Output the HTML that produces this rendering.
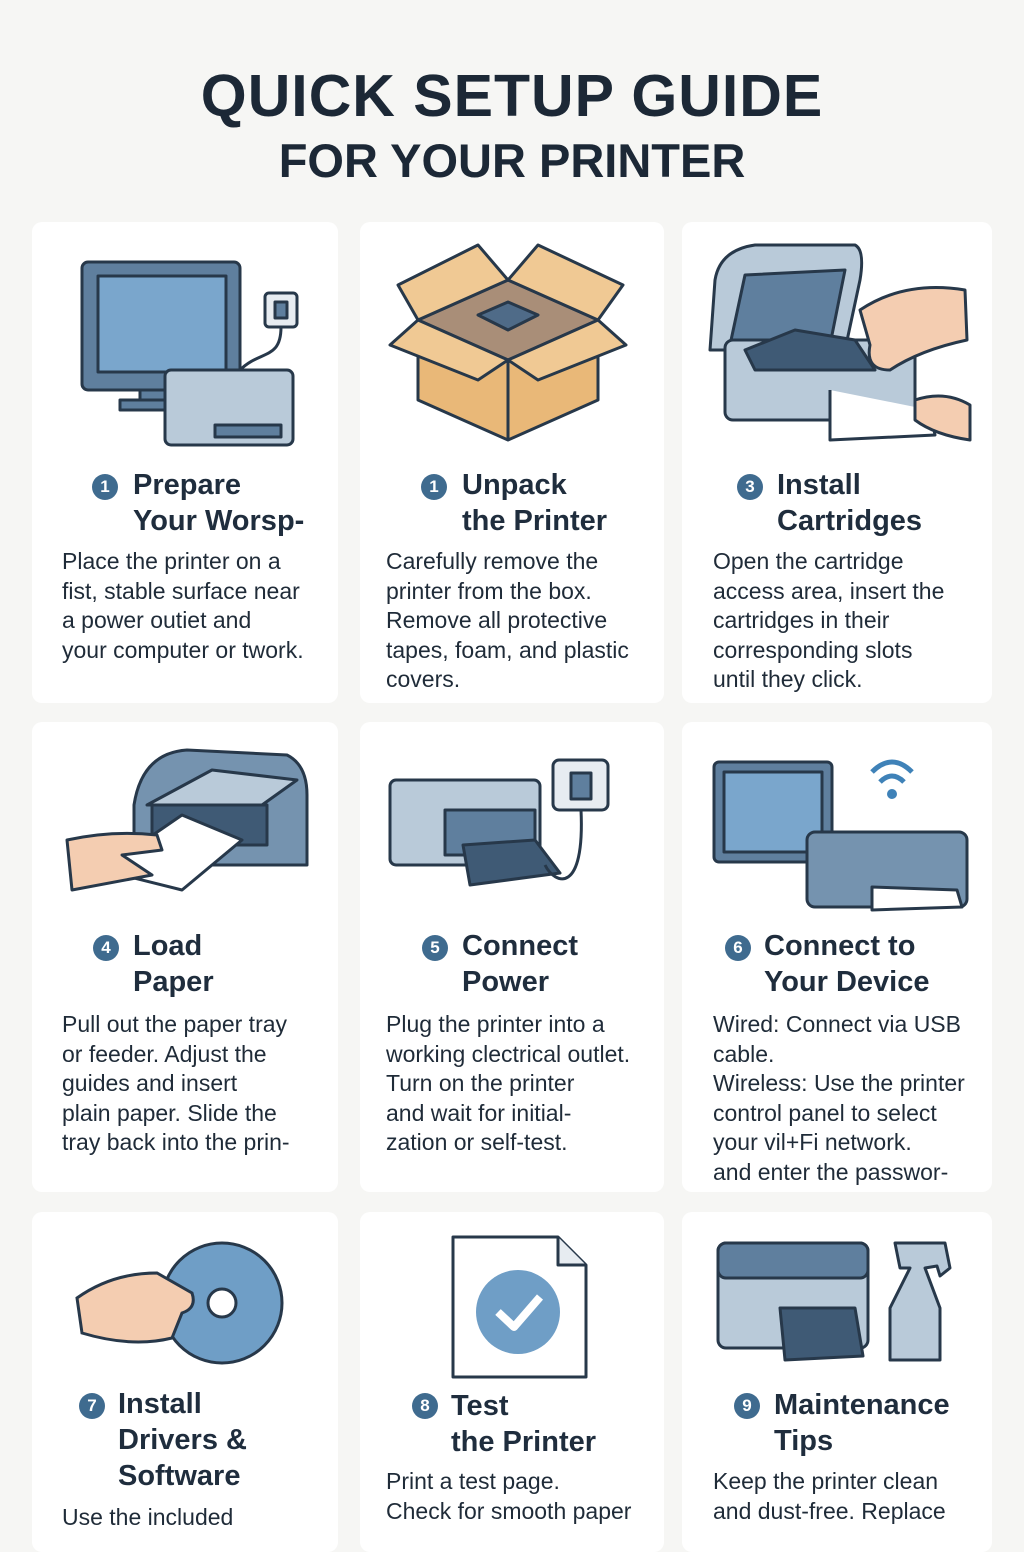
<!DOCTYPE html>
<html><head><meta charset="utf-8"><style>
body{margin:0;width:1024px;height:1536px;background:#f6f6f4;position:relative;overflow:hidden;font-family:"Liberation Sans",sans-serif;color:#1f2b38}
.t1{position:absolute;left:0;width:1024px;top:62px;text-align:center;font-size:59px;font-weight:bold;letter-spacing:1px;color:#1c2836}
.t2{position:absolute;left:0;width:1024px;top:133px;text-align:center;font-size:47px;font-weight:bold;color:#1c2836}
.card{position:absolute;background:#fff;border-radius:10px}
.h{position:absolute;font-size:29px;font-weight:bold;line-height:36px;color:#1f2d3d}
.n{position:absolute;width:26px;height:26px;border-radius:50%;background:#3f6b8f;color:#fff;font-size:17px;font-weight:bold;text-align:center;line-height:26px}
.b{position:absolute;font-size:23px;line-height:29.5px;color:#1f2b38}
svg{position:absolute}
</style></head><body>
<div class="t1">QUICK SETUP GUIDE</div>
<div class="t2">FOR YOUR PRINTER</div>

<div class="card" style="left:32px;top:222px;width:306px;height:481px"></div>
<div class="card" style="left:360px;top:222px;width:304px;height:481px"></div>
<div class="card" style="left:682px;top:222px;width:310px;height:481px"></div>
<div class="card" style="left:32px;top:722px;width:306px;height:470px"></div>
<div class="card" style="left:360px;top:722px;width:304px;height:470px"></div>
<div class="card" style="left:682px;top:722px;width:310px;height:470px"></div>
<div class="card" style="left:32px;top:1212px;width:306px;height:340px"></div>
<div class="card" style="left:360px;top:1212px;width:304px;height:340px"></div>
<div class="card" style="left:682px;top:1212px;width:310px;height:340px"></div>

<svg style="left:60px;top:250px" width="260" height="210" stroke="#27384a" stroke-width="3" stroke-linejoin="round">
<rect x="22" y="12" width="158" height="128" rx="6" fill="#5f7f9e"/><rect x="38" y="26" width="128" height="96" fill="#7aa6cc"/>
<rect x="80" y="140" width="30" height="14" fill="#5f7f9e"/><rect x="60" y="150" width="80" height="10" fill="#5f7f9e"/>
<rect x="105" y="120" width="128" height="75" rx="6" fill="#b9cad9"/><rect x="155" y="175" width="66" height="12" fill="#5f7f9e"/>
<rect x="205" y="43" width="32" height="34" rx="4" fill="#e7ecf1"/><rect x="215" y="52" width="12" height="16" fill="#5f7f9e"/>
<path d="M221 77 C221 110 200 100 180 120" fill="none"/></svg>
<svg style="left:388px;top:240px" width="240" height="205" stroke="#27384a" stroke-width="3" stroke-linejoin="round">
<path d="M30 80 L120 120 L210 80 L210 160 L120 200 L30 160Z" fill="#e9b878"/><path d="M120 120 L120 200" />
<path d="M30 80 L120 40 L210 80 L120 120Z" fill="#a98e78"/><path d="M90 75 L120 62 L150 75 L120 90Z" fill="#4f6b88"/>
<path d="M30 80 L10 45 L90 5 L120 40Z" fill="#f0c994"/><path d="M210 80 L235 45 L150 5 L120 40Z" fill="#f0c994"/>
<path d="M30 80 L2 105 L90 140 L120 120Z" fill="#f0c994"/><path d="M210 80 L238 105 L150 140 L120 120Z" fill="#f0c994"/></svg>
<svg style="left:705px;top:240px" width="270" height="210" stroke="#27384a" stroke-width="3" stroke-linejoin="round">
<path d="M5 110 L10 40 Q15 10 50 5 L150 5 Q160 10 155 40 L140 110Z" fill="#b9cad9"/><path d="M25 105 L40 35 L140 30 L125 105Z" fill="#5f7f9e"/>
<rect x="20" y="100" width="190" height="80" rx="8" fill="#b9cad9"/><path d="M40 110 L90 90 L150 100 L170 130 L50 130Z" fill="#3f5a75"/>
<path d="M125 150 L125 200 L230 195 L225 170" fill="#fff"/><path d="M155 70 Q200 40 260 50 L262 100 Q215 110 185 130 Q160 130 165 105Z" fill="#f4cdb1"/>
<path d="M210 160 Q240 150 265 165 L265 200 Q230 195 210 180Z" fill="#f4cdb1"/></svg>
<svg style="left:62px;top:745px" width="250" height="150" stroke="#27384a" stroke-width="3" stroke-linejoin="round">
<path d="M72 60 Q80 8 125 5 L225 10 Q245 20 245 50 L245 120 L72 120Z" fill="#7593af"/><path d="M85 60 L150 25 L235 35 L200 60Z" fill="#b9cad9"/>
<rect x="90" y="60" width="115" height="40" fill="#3f5a75"/><path d="M40 125 L120 70 L180 95 L120 145Z" fill="#fff"/>
<path d="M5 95 Q50 85 95 90 L100 105 L60 110 L90 130 L10 145Z" fill="#f4cdb1"/></svg>
<svg style="left:385px;top:755px" width="230" height="135" stroke="#27384a" stroke-width="3" stroke-linejoin="round">
<rect x="5" y="25" width="150" height="85" rx="6" fill="#b9cad9"/><rect x="60" y="55" width="90" height="45" fill="#5f7f9e"/>
<path d="M78 90 L150 85 L175 118 L85 130Z" fill="#3f5a75"/><rect x="168" y="5" width="55" height="50" rx="6" fill="#e7ecf1"/><rect x="186" y="18" width="20" height="26" fill="#5f7f9e"/>
<path d="M196 55 C200 140 170 130 160 110" fill="none"/></svg>
<svg style="left:712px;top:752px" width="260" height="165" stroke="#27384a" stroke-width="3" stroke-linejoin="round">
<rect x="2" y="10" width="118" height="100" rx="5" fill="#5f7f9e"/><rect x="12" y="20" width="98" height="80" fill="#7aa6cc"/>
<rect x="95" y="80" width="160" height="75" rx="8" fill="#7593af"/><path d="M160 135 L160 158 L250 155 L245 138Z" fill="#fff"/>
<path d="M160 20 Q180 0 200 20 M168 30 Q180 18 192 30" fill="none" stroke="#3f82b8" stroke-width="5"/><circle cx="180" cy="42" r="5" fill="#3f82b8" stroke="none"/></svg>
<svg style="left:72px;top:1238px" width="215" height="135" stroke="#27384a" stroke-width="3">
<circle cx="150" cy="65" r="60" fill="#6f9ec6"/><circle cx="150" cy="65" r="14" fill="#fff"/>
<path d="M5 60 Q40 35 85 35 L120 55 Q125 70 110 75 L100 100 Q60 110 10 95Z" fill="#f4cdb1"/></svg>
<svg style="left:448px;top:1232px" width="145" height="150" stroke="#27384a" stroke-width="3" stroke-linejoin="round">
<path d="M5 5 L110 5 L138 33 L138 145 L5 145Z" fill="#fff"/><path d="M110 5 L110 33 L138 33" fill="#e7ecf1"/>
<circle cx="70" cy="80" r="42" fill="#6f9ec6" stroke="none"/><path d="M50 80 L66 95 L92 65" fill="none" stroke="#fff" stroke-width="8"/></svg>
<svg style="left:715px;top:1238px" width="240" height="130" stroke="#27384a" stroke-width="3" stroke-linejoin="round">
<rect x="3" y="5" width="150" height="105" rx="8" fill="#b9cad9"/><rect x="3" y="5" width="150" height="35" rx="8" fill="#5f7f9e"/>
<path d="M65 70 L140 70 L148 118 L70 122Z" fill="#3f5a75"/>
<path d="M185 30 L180 5 L230 5 L235 30 L225 38 L222 28 L210 30 L225 70 L225 122 L175 122 L175 70 L195 30Z" fill="#b9cad9"/></svg>

<div class="n" style="left:92px;top:474px">1</div><div class="h" style="left:133px;top:467px">Prepare<br>Your Worsp-</div>
<div class="b" style="left:62px;top:547px">Place the printer on a<br>fist, stable surface near<br>a power outiet and<br>your computer or twork.</div>
<div class="n" style="left:421px;top:474px">1</div><div class="h" style="left:462px;top:467px">Unpack<br>the Printer</div>
<div class="b" style="left:386px;top:547px">Carefully remove the<br>printer from the box.<br>Remove all protective<br>tapes, foam, and plastic<br>covers.</div>
<div class="n" style="left:737px;top:474px">3</div><div class="h" style="left:777px;top:467px">Install<br>Cartridges</div>
<div class="b" style="left:713px;top:547px">Open the cartridge<br>access area, insert the<br>cartridges in their<br>corresponding slots<br>until they click.</div>

<div class="n" style="left:93px;top:935px">4</div><div class="h" style="left:133px;top:928px">Load<br>Paper</div>
<div class="b" style="left:62px;top:1010px">Pull out the paper tray<br>or feeder. Adjust the<br>guides and insert<br>plain paper. Slide the<br>tray back into the prin-</div>
<div class="n" style="left:422px;top:935px">5</div><div class="h" style="left:462px;top:928px">Connect<br>Power</div>
<div class="b" style="left:386px;top:1010px">Plug the printer into a<br>working clectrical outlet.<br>Turn on the printer<br>and wait for initial-<br>zation or self-test.</div>
<div class="n" style="left:725px;top:935px">6</div><div class="h" style="left:764px;top:928px">Connect to<br>Your Device</div>
<div class="b" style="left:713px;top:1010px">Wired: Connect via USB<br>cable.<br>Wireless: Use the printer<br>control panel to select<br>your vil+Fi network.<br>and enter the passwor-</div>

<div class="n" style="left:79px;top:1393px">7</div><div class="h" style="left:118px;top:1386px">Install<br>Drivers &amp;<br>Software</div>
<div class="b" style="left:62px;top:1503px">Use the included</div>
<div class="n" style="left:412px;top:1393px">8</div><div class="h" style="left:451px;top:1388px">Test<br>the Printer</div>
<div class="b" style="left:386px;top:1467px">Print a test page.<br>Check for smooth paper</div>
<div class="n" style="left:734px;top:1393px">9</div><div class="h" style="left:774px;top:1387px">Maintenance<br>Tips</div>
<div class="b" style="left:713px;top:1467px">Keep the printer clean<br>and dust-free. Replace</div>
</body></html>
